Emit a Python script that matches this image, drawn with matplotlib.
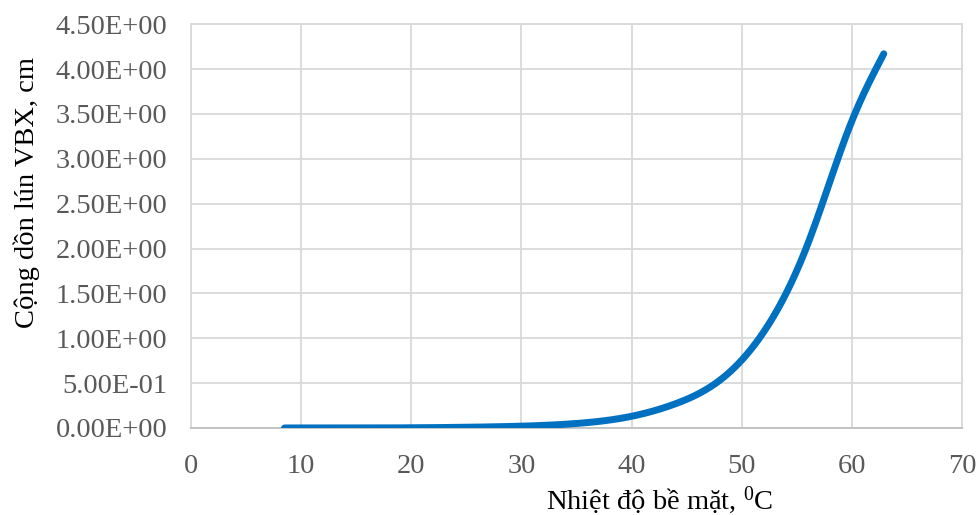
import numpy as np
import matplotlib
matplotlib.use("Agg")
import matplotlib.pyplot as plt
from matplotlib.ticker import FuncFormatter, MultipleLocator

plt.rcParams['font.family'] = ['Liberation Serif', 'DejaVu Serif']
plt.rcParams['mathtext.fontset'] = 'custom'
plt.rcParams['mathtext.rm'] = 'Liberation Serif'
plt.rcParams['mathtext.it'] = 'Liberation Serif'

# Surface temperature (°C) and cumulative rut depth (cm)
temperature = [8.5, 15, 20, 25, 30, 35, 40, 44, 48, 52, 56, 60, 62.9]
rut_depth = [0.0, 0.0, 0.002, 0.008, 0.02, 0.05, 0.13, 0.27, 0.53, 1.07, 2.05, 3.42, 4.17]

x_label = r"Nhiệt độ bề mặt, $^{0}$C"
y_label = "Cộng dồn lún VBX, cm"

fig = plt.figure(figsize=(9.79, 5.15), dpi=100)
ax = fig.add_axes([0.195, 0.169, 0.7876, 0.784])


def natural_spline(x, y, xn):
    """Natural cubic spline through (x, y), evaluated at xn."""
    x = np.asarray(x, float)
    y = np.asarray(y, float)
    n = len(x)
    h = np.diff(x)
    A = np.zeros((n, n))
    b = np.zeros(n)
    A[0, 0] = A[-1, -1] = 1
    for i in range(1, n - 1):
        A[i, i - 1] = h[i - 1]
        A[i, i] = 2 * (h[i - 1] + h[i])
        A[i, i + 1] = h[i]
        b[i] = 3 * ((y[i + 1] - y[i]) / h[i] - (y[i] - y[i - 1]) / h[i - 1])
    c = np.linalg.solve(A, b)
    bb = (y[1:] - y[:-1]) / h - h * (2 * c[:-1] + c[1:]) / 3
    d = (c[1:] - c[:-1]) / (3 * h)
    idx = np.clip(np.searchsorted(x, xn) - 1, 0, n - 2)
    t = xn - x[idx]
    return y[idx] + bb[idx] * t + c[idx] * t**2 + d[idx] * t**3


xn = np.linspace(temperature[0], temperature[-1], 800)
yn = np.maximum(natural_spline(temperature, rut_depth, xn), 0)
ax.plot(xn, yn, color='#0070C0', lw=5, solid_capstyle='round', zorder=3)

ax.set_xlim(0, 70)
ax.set_ylim(0, 4.5)
ax.xaxis.set_major_locator(MultipleLocator(10))
ax.yaxis.set_major_locator(MultipleLocator(0.5))
ax.yaxis.set_major_formatter(FuncFormatter(lambda v, p: f"{v:.2E}"))

ax.grid(True, color='#D9D9D9', lw=1.3)
ax.set_axisbelow(True)
for s in ax.spines.values():
    s.set_color('#D9D9D9')
    s.set_linewidth(1.3)
ax.spines['bottom'].set_color('#BFBFBF')
ax.tick_params(length=0, labelsize=20.5, colors='#595959')
ax.tick_params(axis='x', pad=19)
ax.tick_params(axis='y', pad=17)

ax.set_xlabel(x_label, fontsize=20.5, color='black')
ax.xaxis.set_label_coords(0.608, -0.14)
ax.set_ylabel(y_label, fontsize=20.5, color='black')
ax.yaxis.set_label_coords(-0.196, 0.584)

fig.savefig('out.png', dpi=100)
